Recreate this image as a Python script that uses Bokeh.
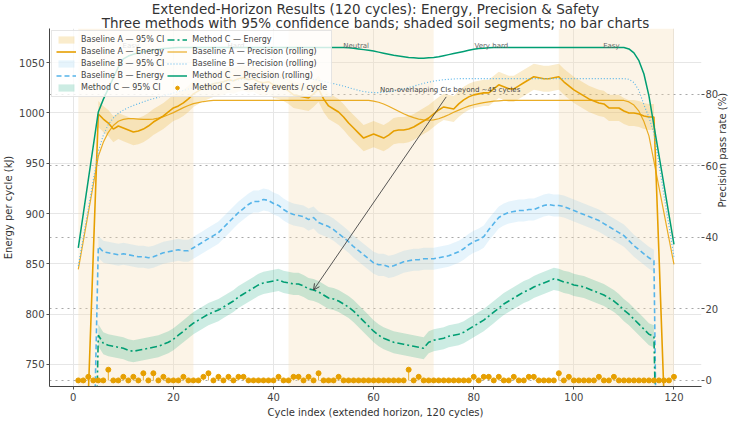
import math
from bokeh.plotting import figure
from bokeh.models import (Range1d, LinearAxis, Grid, FixedTicker, Legend, LegendItem,
                          Arrow, OpenHead, Label, BoxAnnotation, Title)
from bokeh.embed import file_html
from bokeh.resources import INLINE

FONT = "DejaVu Sans"

# ---------------------------------------------------------------- data
cycles = list(range(1, 121))

# rolling energy per cycle (kJ)
energy_a = [480, 600, 720, 860,
            999, 994, 990, 984, 987, 985, 983, 981, 982, 984, 987, 991, 994, 997, 1001, 1005,
            1007, 1010, 1014, 1019, 1022, 1025, 1027, 1029, 1030, 1031,
            1033, 1032, 1034, 1035, 1033, 1034, 1031, 1030, 1031, 1028,
            1027, 1025, 1022, 1018, 1017, 1016, 1015, 1019, 1024, 1014,
            1007, 1004, 1001, 996, 990, 985, 980, 975, 977, 979,
            977, 975, 978, 982, 983, 983, 984, 986, 989, 992,
            995, 999, 1003, 1006, 1005, 1004, 1009, 1013, 1016, 1018,
            1019, 1020, 1020, 1024, 1028, 1026, 1024, 1024, 1027, 1030,
            1033, 1036, 1035, 1034, 1034, 1035, 1036, 1031, 1027, 1023,
            1020, 1017, 1014, 1012, 1010, 1009, 1005, 1005, 1005, 1002,
            1000, 1000, 999, 997, 996, 996,
            860, 720, 600, 480]

energy_b = [280, 400, 520, 640,
            867, 862, 861, 860, 859, 860, 859, 858, 857, 857, 856, 857, 859, 861, 862, 863,
            864, 863, 863, 866, 869, 872, 875, 878, 881, 886,
            891, 896, 901, 905, 909, 912, 912, 914, 913, 910,
            908, 904, 901, 899, 898, 897, 894, 896, 891, 889,
            887, 884, 880, 876, 872, 867, 863, 859, 855, 851,
            849, 849, 847, 848, 850, 852, 853, 854, 854, 855,
            855, 855, 856, 857, 858, 860, 862, 865, 869, 872,
            874, 877, 884, 890, 896, 899, 901, 902, 903, 903,
            904, 904, 906, 908, 909, 908, 908, 907, 905, 903,
            901, 899, 897, 895, 893, 890, 887, 884, 881, 878,
            873, 868, 864, 860, 856, 853,
            460, 380, 300, 220]

energy_c = [300, 380, 460, 540,
            779, 771, 769, 768, 767, 766, 764, 763, 764, 765, 766, 767, 768, 770, 772, 775,
            779, 783, 787, 791, 794, 797, 800, 802, 804, 807,
            810, 813, 817, 820, 823, 826, 829, 831, 832, 833,
            834, 832, 831, 830, 830, 828, 825, 824, 822, 819,
            816, 815, 813, 810, 807, 803, 798, 793, 788, 783,
            779, 776, 774, 772, 771, 770, 769, 768, 767, 766,
            772, 774, 775, 776, 778, 779, 780, 782, 785, 788,
            791, 794, 798, 802, 806, 810, 813, 816, 819, 822,
            824, 827, 829, 831, 833, 835, 834, 832, 831, 829,
            828, 827, 825, 823, 821, 819, 816, 813, 809, 804,
            800, 795, 790, 785, 780, 778,
            540, 460, 380, 300]

# 95% CI half-widths (kJ) and the cycles where the CI is defined
ci_half_a = 13.0
ci_half_b = 11.0
ci_half_c = 11.0
ci_first, ci_last = 5, 116

# rolling precision pass rate (%)
prec_a = [31.0, 38.9, 46.8, 54.7, 62.6, 66.5, 69.3, 71.2, 72.4, 72.9,
          73.1, 73.1, 73.0, 72.9, 72.9, 73.0, 73.3, 73.7, 74.2, 74.8,
          75.5, 76.2, 76.8, 77.3, 77.6, 77.9, 78.1, 78.2, 78.2, 78.2,
          78.2, 78.2, 78.2, 78.2, 78.2, 78.2, 78.2, 78.2, 78.2, 78.2,
          78.2, 78.2, 78.2, 78.2, 78.2, 78.2, 78.2, 78.2, 78.2, 78.2,
          78.2, 78.2, 78.2, 78.2, 78.2, 78.2, 78.2, 78.2, 78.2, 78.0,
          77.7, 77.2, 76.6, 75.9, 75.2, 74.5, 73.9, 73.4, 73.0, 72.8,
          72.7, 72.8, 73.1, 73.6, 74.2, 74.9, 75.5, 76.1, 76.6, 77.0,
          77.3, 77.6, 77.8, 78.0, 78.1, 78.2, 78.2, 78.2, 78.2, 78.2,
          78.2, 78.2, 78.2, 78.2, 78.2, 78.2, 78.2, 78.2, 78.2, 78.2,
          78.2, 78.2, 78.2, 78.2, 78.2, 78.2, 78.2, 78.2, 78.2, 78.2,
          77.8, 76.9, 75.2, 72.3, 68.3, 61.2, 54.0, 46.8, 39.6, 32.4]

prec_b = [32.0, 40.0, 48.0, 56.0, 64.0, 68.5, 71.5, 73.3, 74.6, 75.5,
          76.2, 76.8, 77.3, 77.8, 78.3, 78.7, 79.1, 79.5, 79.9, 80.3,
          80.7, 81.0, 81.4, 81.7, 82.0, 82.3, 82.6, 82.9, 83.2, 83.4,
          83.6, 83.8, 83.9, 84.1, 84.2, 84.3, 84.4, 84.5, 84.5, 84.6,
          84.6, 84.7, 84.7, 84.7, 84.6, 84.5, 84.3, 84.1, 83.8, 83.5,
          83.2, 82.9, 82.6, 82.2, 81.8, 81.4, 81.0, 80.7, 80.5, 80.4,
          80.4, 80.5, 80.6, 80.8, 81.1, 81.4, 81.8, 82.2, 82.6, 83.0,
          83.3, 83.6, 83.8, 84.0, 84.1, 84.2, 84.3, 84.3, 84.3, 84.3,
          84.3, 84.3, 84.3, 84.3, 84.3, 84.3, 84.3, 84.3, 84.3, 84.3,
          84.3, 84.3, 84.3, 84.3, 84.3, 84.3, 84.3, 84.3, 84.3, 84.3,
          84.3, 84.3, 84.3, 84.3, 84.3, 84.3, 84.3, 84.3, 84.3, 84.3,
          84.1, 83.2, 81.0, 77.0, 73.5, 69.0, 60.4, 51.8, 43.1, 34.5]

prec_c = [37.0, 46.5, 56.0, 65.5, 75.0, 78.5, 81.5, 84.5, 87.5, 89.8,
          90.6, 91.1, 91.5, 91.8, 92.1, 92.3, 92.5, 92.7, 92.8, 92.9,
          93.0, 93.0, 93.0, 93.0, 93.0, 93.0, 93.0, 93.0, 93.0, 93.0,
          93.0, 93.0, 93.0, 93.0, 93.0, 93.0, 93.0, 93.0, 93.0, 93.0,
          93.0, 93.0, 93.0, 93.0, 93.0, 93.0, 93.0, 93.0, 93.0, 93.0,
          93.0, 93.0, 93.0, 93.0, 92.9, 92.8, 92.6, 92.4, 92.2, 92.0,
          91.7, 91.4, 91.1, 90.8, 90.6, 90.4, 90.2, 90.1, 90.0, 90.0,
          90.1, 90.2, 90.4, 90.7, 91.0, 91.3, 91.6, 91.9, 92.2, 92.5,
          92.7, 92.8, 92.9, 93.0, 93.0, 93.0, 93.0, 93.0, 93.0, 93.0,
          93.0, 93.0, 93.0, 93.0, 93.0, 93.0, 93.0, 93.0, 93.0, 93.0,
          93.0, 93.0, 93.0, 93.0, 93.0, 93.0, 93.0, 93.0, 93.0, 93.0,
          92.6, 91.5, 89.3, 85.6, 79.5, 71.2, 62.9, 54.6, 46.3, 38.0]

# Method C safety events per cycle
safety_c = [0, 0, 1, 0, 0, 0, 3, 0, 0, 1,
            0, 1, 0, 2, 0, 2, 0, 1, 0, 0,
            0, 1, 0, 0, 0, 1, 2, 0, 1, 0,
            1, 0, 1, 1, 0, 0, 0, 0, 0, 0,
            1, 0, 0, 1, 1, 0, 1, 0, 2, 0,
            0, 0, 1, 0, 0, 0, 0, 0, 0, 0,
            0, 0, 0, 0, 0, 0, 3, 0, 1, 0,
            0, 0, 0, 0, 0, 0, 0, 0, 0, 1,
            0, 1, 1, 0, 1, 0, 0, 1, 0, 0,
            1, 1, 0, 0, 0, 0, 2, 0, 1, 0,
            0, 0, 0, 0, 1, 0, 0, 1, 0, 0,
            0, 0, 0, 0, 0, 0, 0, 0, 0, 1]

# soil segments (cycle boundaries) and their names
soil_bounds = [1, 24, 43, 72, 97, 120]
soil_names = ["Easy", "Hard", "Neutral", "Very hard", "Easy"]

energy_ticks = [750, 800, 850, 900, 950, 1000, 1050]
precision_ticks = [0, 20, 40, 60, 80]
cycle_ticks = [0, 20, 40, 60, 80, 100, 120]

TITLE_MAIN = "Extended-Horizon Results (120 cycles): Energy, Precision & Safety"
TITLE_SUB = "Three methods with 95% confidence bands; shaded soil segments; no bar charts"

ORANGE, BLUE, GREEN = "#E69F00", "#56B4E9", "#009E73"
TEXT = "#333333"

# ---------------------------------------------------------------- figure
x_lo, x_hi = -4.75, 125.5
y_lo, y_hi = 728, 1084
p = figure(width=736, height=424, output_backend="svg", toolbar_location=None,
           title=None,
           x_range=Range1d(x_lo, x_hi), y_range=Range1d(y_lo, y_hi),
           min_border_left=46, min_border_right=29, min_border_top=0,
           min_border_bottom=38)
p.extra_y_ranges = {"prec": Range1d(-1.7, 98.3)}
p.outline_line_color = None
p.background_fill_color = "white"
p.border_fill_color = "white"

# two centred title lines; the one added last sits on top
for txt in (TITLE_SUB, TITLE_MAIN):
    p.add_layout(Title(text=txt, align="center", offset=-8, standoff=-4,
                       text_font=FONT, text_font_size="13.5px",
                       text_font_style="normal", text_color=TEXT,
                       text_line_height=1.0), "above")


def style_axis(ax):
    ax.axis_label_text_font = FONT
    ax.axis_label_text_font_size = "10px"
    ax.axis_label_text_font_style = "normal"
    ax.axis_label_text_color = TEXT
    ax.axis_label_standoff = 2
    ax.major_label_text_font = FONT
    ax.major_label_text_font_size = "10px"
    ax.major_label_text_color = "#444444"
    ax.major_label_standoff = 2
    ax.major_tick_out = 3
    ax.major_tick_in = 0
    ax.minor_tick_line_color = None
    ax.axis_line_color = "#444444"
    ax.major_tick_line_color = "#555555"


p.xaxis.axis_label = "Cycle index (extended horizon, 120 cycles)"
p.xaxis.ticker = FixedTicker(ticks=cycle_ticks)
p.yaxis.axis_label = "Energy per cycle (kJ)"
p.yaxis.ticker = FixedTicker(ticks=energy_ticks)
style_axis(p.xaxis[0])
style_axis(p.yaxis[0])
p.xaxis.major_label_standoff = 3
p.xaxis.axis_label_standoff = 3

right_axis = LinearAxis(y_range_name="prec", axis_label="Precision pass rate (%)",
                        ticker=FixedTicker(ticks=precision_ticks))
style_axis(right_axis)
right_axis.axis_line_color = None
right_axis.major_label_standoff = 1
right_axis.axis_label_standoff = 1
right_axis.axis_label_orientation = math.pi / 2
p.add_layout(right_axis, "right")

p.xgrid.grid_line_color = "#e6e6e6"
p.ygrid.grid_line_color = "#e6e6e6"
prec_grid = Grid(dimension=1, ticker=right_axis.ticker, y_range_name="prec",
                 grid_line_color="#a8a8a8", grid_line_dash="dotted", grid_line_width=1)
p.add_layout(prec_grid)

# shaded soil segments (every other segment)
for i in range(len(soil_names)):
    if i % 2 == 0:
        p.add_layout(BoxAnnotation(left=soil_bounds[i], right=soil_bounds[i + 1],
                                   fill_color="#F5DEB3", fill_alpha=0.32,
                                   line_alpha=0, level="underlay"))

label_y = y_hi - 0.05 * (y_hi - y_lo)
for i, name in enumerate(soil_names):
    # labels sit at the zero-based centre of each segment
    mid = (soil_bounds[i] + soil_bounds[i + 1]) / 2 - 1
    p.add_layout(Label(x=mid, y=label_y, text=name, text_align="center",
                       text_baseline="middle", text_font=FONT, text_font_size="7px",
                       text_color="#666666"))

# ---------------------------------------------------------------- energy
ci_x = cycles[ci_first - 1:ci_last]


def band(series, half):
    seg = series[ci_first - 1:ci_last]
    return [v - half for v in seg], [v + half for v in seg]


lo_a, hi_a = band(energy_a, ci_half_a)
lo_b, hi_b = band(energy_b, ci_half_b)
lo_c, hi_c = band(energy_c, ci_half_c)

band_a = p.varea(x=ci_x, y1=lo_a, y2=hi_a, fill_color=ORANGE, fill_alpha=0.2)
line_ea = p.line(cycles, energy_a, line_color=ORANGE, line_width=1.6)
band_b = p.varea(x=ci_x, y1=lo_b, y2=hi_b, fill_color=BLUE, fill_alpha=0.15)
line_eb = p.line(cycles, energy_b, line_color=BLUE, line_width=1.6, line_dash="5 3")
band_c = p.varea(x=ci_x, y1=lo_c, y2=hi_c, fill_color=GREEN, fill_alpha=0.2)
line_ec = p.line(cycles, energy_c, line_color=GREEN, line_width=1.6, line_dash="7 3 2 3")

# ---------------------------------------------------------------- precision
line_pa = p.line(cycles, prec_a, y_range_name="prec", line_color=ORANGE,
                 line_width=1.2, line_alpha=0.85)
line_pb = p.line(cycles, prec_b, y_range_name="prec", line_color=BLUE,
                 line_width=1.1, line_dash="1 2")
line_pc = p.line(cycles, prec_c, y_range_name="prec", line_color=GREEN, line_width=1.5)

# ---------------------------------------------------------------- safety events
p.segment(x0=cycles, y0=[0] * len(cycles), x1=cycles, y1=safety_c, y_range_name="prec",
          line_color=ORANGE, line_width=0.8)
dots = p.scatter(cycles, safety_c, y_range_name="prec", size=5, marker="circle",
                 fill_color=ORANGE, line_color=ORANGE)

# ---------------------------------------------------------------- annotation
arrow_tip_cycle = 48
p.add_layout(Arrow(end=OpenHead(size=6, line_color="#444444", line_width=1),
                   x_start=74.5, y_start=1016, x_end=arrow_tip_cycle,
                   y_end=energy_c[arrow_tip_cycle - 1],
                   line_color="#444444", line_width=0.9))
p.add_layout(Label(x=75.3, y=1022.7, text="Non-overlapping CIs beyond ~45 cycles",
                   text_align="center", text_baseline="middle", text_font=FONT,
                   text_font_size="7px", text_color="#444444"))

# ---------------------------------------------------------------- legend
items = [
    LegendItem(label="Baseline A — 95% CI", renderers=[band_a]),
    LegendItem(label="Baseline A — Energy", renderers=[line_ea]),
    LegendItem(label="Baseline B — 95% CI", renderers=[band_b]),
    LegendItem(label="Baseline B — Energy", renderers=[line_eb]),
    LegendItem(label="Method C — 95% CI", renderers=[band_c]),
    LegendItem(label="Method C — Energy", renderers=[line_ec]),
    LegendItem(label="Baseline A — Precision (rolling)", renderers=[line_pa]),
    LegendItem(label="Baseline B — Precision (rolling)", renderers=[line_pb]),
    LegendItem(label="Method C — Precision (rolling)", renderers=[line_pc]),
    LegendItem(label="Method C — Safety events / cycle", renderers=[dots]),
]
legend = Legend(items=items, location="top_left", ncols=2,
                label_text_font=FONT, label_text_font_size="8px",
                label_text_color="#444444", glyph_width=20, glyph_height=9,
                label_height=9, label_standoff=5, spacing=3, padding=4, margin=2,
                border_line_color="#cccccc", border_line_width=0.8,
                background_fill_color="white", background_fill_alpha=0.8)
p.add_layout(legend)

open("out.html", "w").write(file_html(p, INLINE))
